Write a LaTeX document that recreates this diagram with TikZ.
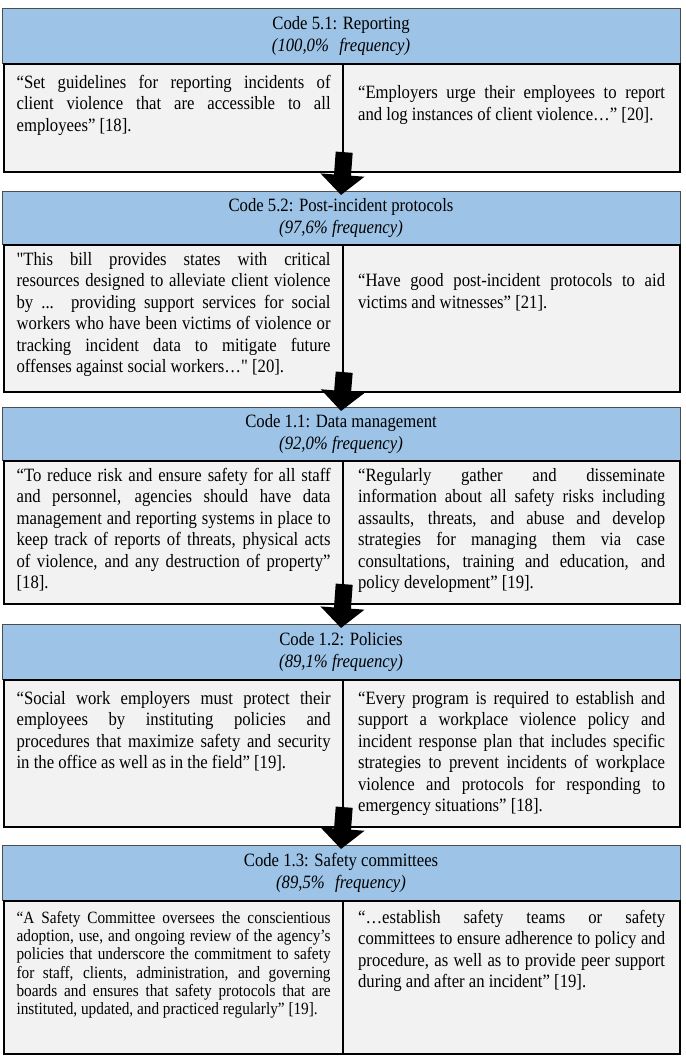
\documentclass[tikz,border=0pt]{standalone}
\usepackage{fontspec}
\setmainfont{Liberation Serif}[FakeStretch=0.888, Ligatures=TeXOff]
\usetikzlibrary{arrows.meta}
\definecolor{hdrblue}{HTML}{9DC3E6}
\definecolor{cellgray}{HTML}{F2F2F2}
% #1 height, #2 width, #3 top pad, #4 font size, #5 baselineskip, #6 text
\newcommand{\qcell}[6]{\parbox[c][#1pt][t]{#2pt}{\fontsize{#4}{#5}\selectfont\hyphenpenalty=10000 \exhyphenpenalty=10000 \tolerance=10000 \emergencystretch=0pt\vspace*{#3pt}\strut #6}}
\begin{document}
\begin{tikzpicture}[x=1pt,y=-1pt,
  hdr/.style={draw=black!70, line width=0.9pt, fill=hdrblue, minimum width=678pt, inner sep=0pt, align=center, font=\fontsize{18.8}{21.5}\selectfont, anchor=north},
  qleft/.style={draw=black, line width=2.2pt, fill=cellgray, inner xsep=12.5pt, inner ysep=0pt, anchor=north west},
  qright/.style={draw=black, line width=2.2pt, fill=cellgray, inner xsep=15pt, inner ysep=0pt, anchor=north west},
  flow/.style={draw=black, line width=17pt, -{Triangle[width=43pt,length=20pt]}}
]
\useasboundingbox (0,0) rectangle (685,1056);

% Block 1
\node[hdr, minimum height=55pt] (h1) at (341,8) {Code 5.1: Reporting\\\textit{(100,0\%\hspace{0.55em}frequency)}};
\node[qleft] (l1) at (3,63) {\qcell{108}{314}{9}{18.8}{21.5}{“Set guidelines for reporting incidents of\linebreak client violence that are accessible to all\linebreak employees” [18].}};
\node[qright] (r1) at (342,63) {\qcell{108}{307}{19.5}{18.8}{21.5}{“Employers urge their employees to report\linebreak and log instances of client violence…” [20].}};

% Block 2
\node[hdr, minimum height=53pt] (h2) at (341,191) {Code 5.2: Post-incident protocols\\\textit{(97,6\% frequency)}};
\node[qleft] (l2) at (3,244) {\qcell{147}{314}{5}{18.8}{21.5}{"This bill provides states with critical\linebreak resources designed to alleviate client violence\linebreak by ... providing support services for social\linebreak workers who have been victims of violence or\linebreak tracking incident data to mitigate future\linebreak offenses against social workers…" [20].}};
\node[qright] (r2) at (342,244) {\qcell{147}{307}{26.5}{18.8}{21.5}{“Have good post-incident protocols to aid\linebreak victims and witnesses” [21].}};

% Block 3
\node[hdr, minimum height=53pt] (h3) at (341,407) {Code 1.1: Data management\\\textit{(92,0\% frequency)}};
\node[qleft] (l3) at (3,460) {\qcell{143}{314}{5}{18.8}{21.5}{“To reduce risk and ensure safety for all staff\linebreak and personnel, agencies should have data\linebreak management and reporting systems in place to\linebreak keep track of reports of threats, physical acts\linebreak of violence, and any destruction of property”\linebreak{}[18].}};
\node[qright] (r3) at (342,460) {\qcell{143}{307}{5}{18.8}{21.5}{“Regularly gather and disseminate\linebreak information about all safety risks including\linebreak assaults, threats, and abuse and develop\linebreak strategies for managing them via case\linebreak consultations, training and education, and\linebreak policy development” [19].}};

% Block 4
\node[hdr, minimum height=55pt] (h4) at (341,624) {Code 1.2: Policies\\\textit{(89,1\% frequency)}};
\node[qleft] (l4) at (3,679) {\qcell{147}{314}{9}{18.8}{21.5}{“Social work employers must protect their\linebreak employees by instituting policies and\linebreak procedures that maximize safety and security\linebreak in the office as well as in the field” [19].}};
\node[qright] (r4) at (342,679) {\qcell{147}{307}{9}{18.8}{21.5}{“Every program is required to establish and\linebreak support a workplace violence policy and\linebreak incident response plan that includes specific\linebreak strategies to prevent incidents of workplace\linebreak violence and protocols for responding to\linebreak emergency situations” [18].}};

% Block 5
\node[hdr, minimum height=55pt] (h5) at (341,845) {Code 1.3: Safety committees\\\textit{(89,5\%\hspace{0.55em}frequency)}};
\node[qleft] (l5) at (3,900) {\qcell{153}{314}{9.2}{17.2}{18.3}{“A Safety Committee oversees the conscientious\linebreak adoption, use, and ongoing review of the agency’s\linebreak policies that underscore the commitment to safety\linebreak for staff, clients, administration, and governing\linebreak boards and ensures that safety protocols that are\linebreak instituted, updated, and practiced regularly” [19].}};
\node[qright] (r5) at (342,900) {\qcell{153}{307}{7}{18.8}{21.5}{“…establish safety teams or safety\linebreak committees to ensure adherence to policy and\linebreak procedure, as well as to provide peer support\linebreak during and after an incident” [19].}};

% Arrows
\draw[flow] ([yshift=21pt]l1.south east) -- ([yshift=-4pt]h2.north);
\draw[flow] ([yshift=21pt]l2.south east) -- ([yshift=-4pt]h3.north);
\draw[flow] ([yshift=21pt]l3.south east) -- ([yshift=-4pt]h4.north);
\draw[flow] ([yshift=21pt]l4.south east) -- ([yshift=-4pt]h5.north);
\end{tikzpicture}
\end{document}
